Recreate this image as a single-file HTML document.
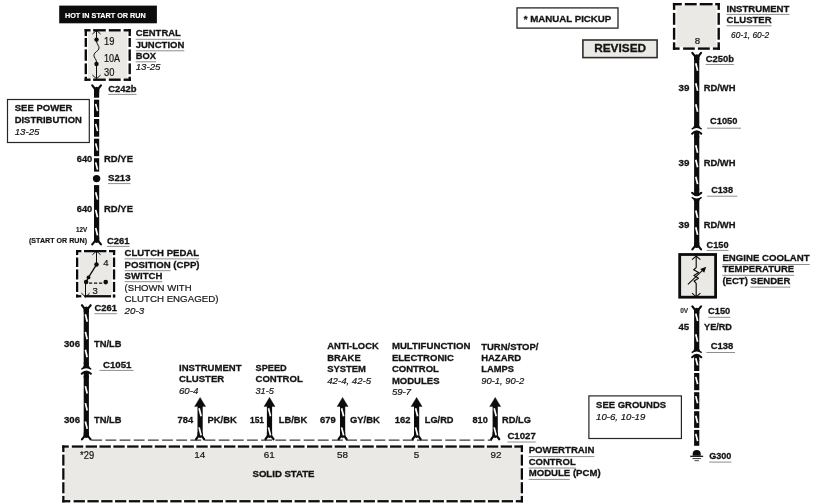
<!DOCTYPE html>
<html><head><meta charset="utf-8"><title>Wiring Diagram</title>
<style>
html,body{margin:0;padding:0;background:#fff;}
body{width:817px;height:504px;overflow:hidden;}
svg{display:block;font-family:"Liberation Sans",sans-serif;will-change:transform;}
</style></head><body>
<svg width="817" height="504" viewBox="0 0 817 504">
<rect x="0" y="0" width="817" height="504" fill="#fff"/>
<rect x="59.2" y="5.6" width="97.7" height="17.7" fill="#0c0c0c"/>
<text x="65.0" y="18.3" font-size="7.6" font-weight="bold" font-style="normal" text-anchor="start" fill="#fff" stroke="#fff" stroke-width="0.15" textLength="80.8" lengthAdjust="spacingAndGlyphs">HOT IN START OR RUN</text>
<rect x="88.1" y="31.7" width="39.3" height="46.6" fill="#ebe9e6"/>
<line x1="84.6" y1="30.3" x2="90.6" y2="30.3" stroke="#0c0c0c" stroke-width="2.4" />
<line x1="93.1" y1="30.3" x2="105.8" y2="30.3" stroke="#0c0c0c" stroke-width="2.4" />
<line x1="108.8" y1="30.3" x2="120.7" y2="30.3" stroke="#0c0c0c" stroke-width="2.4" />
<line x1="123.6" y1="30.3" x2="130.9" y2="30.3" stroke="#0c0c0c" stroke-width="2.4" />
<line x1="84.6" y1="79.7" x2="90.6" y2="79.7" stroke="#0c0c0c" stroke-width="2.4" />
<line x1="93.1" y1="79.7" x2="105.8" y2="79.7" stroke="#0c0c0c" stroke-width="2.4" />
<line x1="108.8" y1="79.7" x2="120.7" y2="79.7" stroke="#0c0c0c" stroke-width="2.4" />
<line x1="123.6" y1="79.7" x2="130.9" y2="79.7" stroke="#0c0c0c" stroke-width="2.4" />
<line x1="85.8" y1="29.1" x2="85.8" y2="36.1" stroke="#0c0c0c" stroke-width="2.4" />
<line x1="85.8" y1="38" x2="85.8" y2="46.9" stroke="#0c0c0c" stroke-width="2.4" />
<line x1="85.8" y1="49.4" x2="85.8" y2="60.8" stroke="#0c0c0c" stroke-width="2.4" />
<line x1="85.8" y1="63.4" x2="85.8" y2="74.2" stroke="#0c0c0c" stroke-width="2.4" />
<line x1="85.8" y1="76.7" x2="85.8" y2="80.9" stroke="#0c0c0c" stroke-width="2.4" />
<line x1="129.7" y1="29.1" x2="129.7" y2="36.1" stroke="#0c0c0c" stroke-width="2.4" />
<line x1="129.7" y1="38" x2="129.7" y2="46.9" stroke="#0c0c0c" stroke-width="2.4" />
<line x1="129.7" y1="49.4" x2="129.7" y2="60.8" stroke="#0c0c0c" stroke-width="2.4" />
<line x1="129.7" y1="63.4" x2="129.7" y2="74.2" stroke="#0c0c0c" stroke-width="2.4" />
<line x1="129.7" y1="76.7" x2="129.7" y2="80.9" stroke="#0c0c0c" stroke-width="2.4" />
<line x1="96.5" y1="30.5" x2="96.5" y2="40" stroke="#0c0c0c" stroke-width="1" />
<path d="M92.4,34.1 L96.5,30.3 L100.6,34.1" fill="none" stroke="#0c0c0c" stroke-width="1"/>
<circle cx="96.5" cy="39.6" r="2.2" fill="#0c0c0c"/>
<path d="M96.5,41 C97.0,45 99.1,45.5 99.1,48 C99.1,51 93.9,52 93.9,55.2 C93.9,58 96.2,58.5 96.5,62" fill="none" stroke="#0c0c0c" stroke-width="1"/>
<circle cx="96.5" cy="64" r="2.2" fill="#0c0c0c"/>
<line x1="96.5" y1="64" x2="96.5" y2="78.5" stroke="#0c0c0c" stroke-width="1" />
<path d="M92.4,75.0 L96.5,78.8 L100.6,75.0" fill="none" stroke="#0c0c0c" stroke-width="1"/>
<text x="104" y="44.6" font-size="10.1" font-weight="normal" font-style="normal" text-anchor="start" fill="#141414" stroke="#141414" stroke-width="0.2" textLength="10.4" lengthAdjust="spacingAndGlyphs">19</text>
<text x="104" y="61.9" font-size="10.1" font-weight="normal" font-style="normal" text-anchor="start" fill="#141414" stroke="#141414" stroke-width="0.2" textLength="16" lengthAdjust="spacingAndGlyphs">10A</text>
<text x="104" y="75.9" font-size="10.1" font-weight="normal" font-style="normal" text-anchor="start" fill="#141414" stroke="#141414" stroke-width="0.2" textLength="10.4" lengthAdjust="spacingAndGlyphs">30</text>
<text x="135.7" y="36.4" font-size="9.85" font-weight="bold" font-style="normal" text-anchor="start" fill="#141414" stroke="#141414" stroke-width="0.3" textLength="45.1" lengthAdjust="spacingAndGlyphs">CENTRAL</text>
<line x1="135.7" y1="39.3" x2="180.8" y2="39.3" stroke="#8e8e8e" stroke-width="1"/>
<text x="135.7" y="47.9" font-size="9.85" font-weight="bold" font-style="normal" text-anchor="start" fill="#141414" stroke="#141414" stroke-width="0.3" textLength="48.6" lengthAdjust="spacingAndGlyphs">JUNCTION</text>
<line x1="135.7" y1="50.8" x2="184.3" y2="50.8" stroke="#8e8e8e" stroke-width="1"/>
<text x="135.7" y="58.9" font-size="9.85" font-weight="bold" font-style="normal" text-anchor="start" fill="#141414" stroke="#141414" stroke-width="0.3" textLength="20.3" lengthAdjust="spacingAndGlyphs">BOX</text>
<line x1="135.7" y1="61.8" x2="156.0" y2="61.8" stroke="#8e8e8e" stroke-width="1"/>
<text x="135.7" y="70.3" font-size="9.85" font-weight="normal" font-style="italic" text-anchor="start" fill="#141414" stroke="#141414" stroke-width="0.2" textLength="24.8" lengthAdjust="spacingAndGlyphs">13-25</text>
<line x1="92.25" y1="85.45" x2="95.1" y2="89.0" stroke="#0c0c0c" stroke-width="2.15" stroke-linecap="round"/>
<line x1="100.95" y1="85.45" x2="98.1" y2="89.0" stroke="#0c0c0c" stroke-width="2.15" stroke-linecap="round"/>
<path d="M94.0,92.5 L94.0,88.5 L95.3,87.2 L96.6,86.8 L97.9,87.2 L99.2,88.5 L99.2,92.5 Z" fill="#0c0c0c"/>
<text x="108.2" y="91.5" font-size="9.85" font-weight="bold" font-style="normal" text-anchor="start" fill="#141414" stroke="#141414" stroke-width="0.3" textLength="28.3" lengthAdjust="spacingAndGlyphs">C242b</text>
<line x1="108.2" y1="94.4" x2="136.5" y2="94.4" stroke="#8e8e8e" stroke-width="1"/>
<line x1="96.6" y1="88" x2="96.6" y2="171.6" stroke="#0c0c0c" stroke-width="5.2" />
<line x1="95.7" y1="103.9" x2="97.5" y2="111.1" stroke="#fff" stroke-width="1.7" />
<line x1="95.7" y1="123.9" x2="97.5" y2="131.1" stroke="#fff" stroke-width="1.7" />
<line x1="95.7" y1="143.4" x2="97.5" y2="150.6" stroke="#fff" stroke-width="1.7" />
<line x1="95.7" y1="162.4" x2="97.5" y2="169.6" stroke="#fff" stroke-width="1.7" />
<rect x="92.6" y="97.7" width="8" height="2" fill="#fff"/>
<rect x="92.6" y="117.0" width="8" height="2" fill="#fff"/>
<rect x="92.6" y="136.7" width="8" height="2" fill="#fff"/>
<rect x="92.6" y="156.2" width="8" height="2" fill="#fff"/>
<text x="76.8" y="162" font-size="9.85" font-weight="bold" font-style="normal" text-anchor="start" fill="#141414" stroke="#141414" stroke-width="0.3" textLength="15.5" lengthAdjust="spacingAndGlyphs">640</text>
<text x="104" y="162" font-size="9.85" font-weight="bold" font-style="normal" text-anchor="start" fill="#141414" stroke="#141414" stroke-width="0.3" textLength="29" lengthAdjust="spacingAndGlyphs">RD/YE</text>
<rect x="7.5" y="99.5" width="81.8" height="43" fill="#fff" stroke="#262626" stroke-width="1.2"/>
<text x="14.7" y="111.4" font-size="9.85" font-weight="bold" font-style="normal" text-anchor="start" fill="#141414" stroke="#141414" stroke-width="0.3" textLength="57.8" lengthAdjust="spacingAndGlyphs">SEE POWER</text>
<text x="14.7" y="123.3" font-size="9.85" font-weight="bold" font-style="normal" text-anchor="start" fill="#141414" stroke="#141414" stroke-width="0.3" textLength="67.1" lengthAdjust="spacingAndGlyphs">DISTRIBUTION</text>
<text x="14.7" y="134.6" font-size="9.85" font-weight="normal" font-style="italic" text-anchor="start" fill="#141414" stroke="#141414" stroke-width="0.2" textLength="24.8" lengthAdjust="spacingAndGlyphs">13-25</text>
<circle cx="96.6" cy="178.6" r="3.7" fill="#0c0c0c"/>
<text x="108" y="180.7" font-size="9.85" font-weight="bold" font-style="normal" text-anchor="start" fill="#141414" stroke="#141414" stroke-width="0.3" textLength="22.5" lengthAdjust="spacingAndGlyphs">S213</text>
<line x1="108" y1="183.6" x2="130.5" y2="183.6" stroke="#8e8e8e" stroke-width="1"/>
<line x1="96.6" y1="185.1" x2="96.6" y2="241" stroke="#0c0c0c" stroke-width="5.2" />
<line x1="95.7" y1="192.2" x2="97.5" y2="199.6" stroke="#fff" stroke-width="1.7" />
<line x1="95.7" y1="209.9" x2="97.5" y2="217.3" stroke="#fff" stroke-width="1.7" />
<line x1="95.7" y1="228.0" x2="97.5" y2="235.4" stroke="#fff" stroke-width="1.7" />
<line x1="92.25" y1="244.35" x2="95.1" y2="240.8" stroke="#0c0c0c" stroke-width="2.15" stroke-linecap="round"/>
<line x1="100.95" y1="244.35" x2="98.1" y2="240.8" stroke="#0c0c0c" stroke-width="2.15" stroke-linecap="round"/>
<path d="M94.0,237.3 L94.0,241.3 L95.3,242.6 L96.6,243.0 L97.9,242.6 L99.2,241.3 L99.2,237.3 Z" fill="#0c0c0c"/>
<text x="76.8" y="211.6" font-size="9.85" font-weight="bold" font-style="normal" text-anchor="start" fill="#141414" stroke="#141414" stroke-width="0.3" textLength="15.5" lengthAdjust="spacingAndGlyphs">640</text>
<text x="104" y="211.6" font-size="9.85" font-weight="bold" font-style="normal" text-anchor="start" fill="#141414" stroke="#141414" stroke-width="0.3" textLength="29" lengthAdjust="spacingAndGlyphs">RD/YE</text>
<text x="76" y="232.4" font-size="6.9" font-weight="bold" font-style="normal" text-anchor="start" fill="#141414" stroke="#141414" stroke-width="0.15" textLength="11.2" lengthAdjust="spacingAndGlyphs">12V</text>
<text x="29" y="242.9" font-size="6.6" font-weight="bold" font-style="normal" text-anchor="start" fill="#141414" stroke="#141414" stroke-width="0.15" textLength="58" lengthAdjust="spacingAndGlyphs">(START OR RUN)</text>
<text x="107" y="243.5" font-size="9.85" font-weight="bold" font-style="normal" text-anchor="start" fill="#141414" stroke="#141414" stroke-width="0.3" textLength="22.5" lengthAdjust="spacingAndGlyphs">C261</text>
<line x1="107" y1="246.4" x2="129.5" y2="246.4" stroke="#8e8e8e" stroke-width="1"/>
<rect x="79.4" y="252.5" width="32.4" height="42.4" fill="#ebe9e6"/>
<line x1="76" y1="251.15" x2="81.4" y2="251.15" stroke="#0c0c0c" stroke-width="2.3" />
<line x1="84" y1="251.15" x2="106.4" y2="251.15" stroke="#0c0c0c" stroke-width="2.3" />
<line x1="109" y1="251.15" x2="115.2" y2="251.15" stroke="#0c0c0c" stroke-width="2.3" />
<line x1="76" y1="296.25" x2="81.3" y2="296.25" stroke="#0c0c0c" stroke-width="2.3" />
<line x1="84.3" y1="296.25" x2="111.1" y2="296.25" stroke="#0c0c0c" stroke-width="2.3" />
<line x1="112.9" y1="296.25" x2="115.2" y2="296.25" stroke="#0c0c0c" stroke-width="2.3" />
<line x1="77.15" y1="250" x2="77.15" y2="255.1" stroke="#0c0c0c" stroke-width="2.3" />
<line x1="77.15" y1="257.5" x2="77.15" y2="267" stroke="#0c0c0c" stroke-width="2.3" />
<line x1="77.15" y1="269.4" x2="77.15" y2="279.5" stroke="#0c0c0c" stroke-width="2.3" />
<line x1="77.15" y1="281.9" x2="77.15" y2="292" stroke="#0c0c0c" stroke-width="2.3" />
<line x1="77.15" y1="294.4" x2="77.15" y2="297.4" stroke="#0c0c0c" stroke-width="2.3" />
<line x1="114.05" y1="250" x2="114.05" y2="255.1" stroke="#0c0c0c" stroke-width="2.3" />
<line x1="114.05" y1="257.5" x2="114.05" y2="267" stroke="#0c0c0c" stroke-width="2.3" />
<line x1="114.05" y1="269.4" x2="114.05" y2="279.5" stroke="#0c0c0c" stroke-width="2.3" />
<line x1="114.05" y1="281.9" x2="114.05" y2="292" stroke="#0c0c0c" stroke-width="2.3" />
<line x1="114.05" y1="294.4" x2="114.05" y2="297.4" stroke="#0c0c0c" stroke-width="2.3" />
<line x1="96.5" y1="251" x2="96.5" y2="264.6" stroke="#0c0c0c" stroke-width="1" />
<path d="M92.4,254.8 L96.5,251.0 L100.6,254.8" fill="none" stroke="#0c0c0c" stroke-width="1"/>
<circle cx="96.5" cy="264.6" r="2.25" fill="#0c0c0c"/>
<path d="M96.5,264.6 L88.5,277.4 L86.1,281.9" fill="none" stroke="#0c0c0c" stroke-width="1.3"/>
<circle cx="88.5" cy="277.4" r="1.9" fill="#0c0c0c"/>
<circle cx="86.1" cy="281.9" r="2.25" fill="#0c0c0c"/>
<circle cx="105.7" cy="282.1" r="2.3" fill="#0c0c0c"/>
<line x1="89" y1="283.2" x2="102.5" y2="283.2" stroke="#0c0c0c" stroke-width="1.2" stroke-dasharray="3.2 1.8"/>
<line x1="85.5" y1="282" x2="85.5" y2="296.8" stroke="#0c0c0c" stroke-width="1" />
<path d="M81.4,293.2 L85.5,297.0 L89.6,293.2" fill="none" stroke="#0c0c0c" stroke-width="1"/>
<text x="103.2" y="265.8" font-size="9.9" font-weight="normal" font-style="normal" text-anchor="start" fill="#141414" stroke="#141414" stroke-width="0.2" textLength="5.3" lengthAdjust="spacingAndGlyphs">4</text>
<text x="92.6" y="294.2" font-size="9.9" font-weight="normal" font-style="normal" text-anchor="start" fill="#141414" stroke="#141414" stroke-width="0.2" textLength="5.3" lengthAdjust="spacingAndGlyphs">3</text>
<text x="124.6" y="256" font-size="9.85" font-weight="bold" font-style="normal" text-anchor="start" fill="#141414" stroke="#141414" stroke-width="0.3" textLength="74.5" lengthAdjust="spacingAndGlyphs">CLUTCH PEDAL</text>
<line x1="124.6" y1="258.9" x2="199.1" y2="258.9" stroke="#8e8e8e" stroke-width="1"/>
<text x="124.6" y="267.8" font-size="9.85" font-weight="bold" font-style="normal" text-anchor="start" fill="#141414" stroke="#141414" stroke-width="0.3" textLength="75" lengthAdjust="spacingAndGlyphs">POSITION (CPP)</text>
<line x1="124.6" y1="270.7" x2="170.6" y2="270.7" stroke="#8e8e8e" stroke-width="1"/>
<text x="124.6" y="278.8" font-size="9.85" font-weight="bold" font-style="normal" text-anchor="start" fill="#141414" stroke="#141414" stroke-width="0.3" textLength="37.8" lengthAdjust="spacingAndGlyphs">SWITCH</text>
<line x1="124.6" y1="281.7" x2="162.4" y2="281.7" stroke="#8e8e8e" stroke-width="1"/>
<text x="124.6" y="290.7" font-size="9.85" font-weight="normal" font-style="normal" text-anchor="start" fill="#141414" stroke="#141414" stroke-width="0.2" textLength="67" lengthAdjust="spacingAndGlyphs">(SHOWN WITH</text>
<text x="124.6" y="301.8" font-size="9.85" font-weight="normal" font-style="normal" text-anchor="start" fill="#141414" stroke="#141414" stroke-width="0.2" textLength="93.8" lengthAdjust="spacingAndGlyphs">CLUTCH ENGAGED)</text>
<text x="124.6" y="313.8" font-size="9.85" font-weight="normal" font-style="italic" text-anchor="start" fill="#141414" stroke="#141414" stroke-width="0.2" textLength="19.6" lengthAdjust="spacingAndGlyphs">20-3</text>
<line x1="81.95" y1="305.25" x2="84.8" y2="308.8" stroke="#0c0c0c" stroke-width="2.15" stroke-linecap="round"/>
<line x1="90.65" y1="305.25" x2="87.8" y2="308.8" stroke="#0c0c0c" stroke-width="2.15" stroke-linecap="round"/>
<path d="M83.7,312.3 L83.7,308.3 L85.0,307.0 L86.3,306.6 L87.6,307.0 L88.9,308.3 L88.9,312.3 Z" fill="#0c0c0c"/>
<text x="94.4" y="310.9" font-size="9.85" font-weight="bold" font-style="normal" text-anchor="start" fill="#141414" stroke="#141414" stroke-width="0.3" textLength="22.5" lengthAdjust="spacingAndGlyphs">C261</text>
<line x1="94.4" y1="313.7" x2="116.9" y2="313.7" stroke="#8e8e8e" stroke-width="1"/>
<line x1="86.3" y1="308" x2="86.3" y2="364" stroke="#0c0c0c" stroke-width="5.2" />
<line x1="85.4" y1="314.3" x2="87.2" y2="321.7" stroke="#fff" stroke-width="1.7" />
<line x1="85.4" y1="331.9" x2="87.2" y2="339.3" stroke="#fff" stroke-width="1.7" />
<line x1="85.4" y1="349.8" x2="87.2" y2="357.2" stroke="#fff" stroke-width="1.7" />
<path d="M83.7,362.6 L83.7,365.6 Q83.4,367.6 81.0,368.7 L81.6,369.8 Q86.3,366.6 91.0,369.8 L91.6,368.7 Q89.2,367.6 88.9,365.6 L88.9,362.6 Z" fill="#0c0c0c"/>
<path d="M81.7,373.8 Q86.3,369.0 90.9,373.8" fill="none" stroke="#0c0c0c" stroke-width="2" stroke-linecap="round"/>
<path d="M83.7,377.6 L83.7,372.2 Q86.3,370.4 88.9,372.2 L88.9,377.6 Z" fill="#0c0c0c"/>
<text x="103" y="367.5" font-size="9.85" font-weight="bold" font-style="normal" text-anchor="start" fill="#141414" stroke="#141414" stroke-width="0.3" textLength="28.5" lengthAdjust="spacingAndGlyphs">C1051</text>
<line x1="99.5" y1="370.4" x2="133.5" y2="370.4" stroke="#8e8e8e" stroke-width="1"/>
<line x1="86.3" y1="376" x2="86.3" y2="437" stroke="#0c0c0c" stroke-width="5.2" />
<line x1="85.4" y1="386.1" x2="87.2" y2="393.5" stroke="#fff" stroke-width="1.7" />
<line x1="85.4" y1="403.1" x2="87.2" y2="410.5" stroke="#fff" stroke-width="1.7" />
<line x1="85.4" y1="421.5" x2="87.2" y2="428.9" stroke="#fff" stroke-width="1.7" />
<line x1="81.95" y1="439.45" x2="84.8" y2="435.9" stroke="#0c0c0c" stroke-width="2.15" stroke-linecap="round"/>
<line x1="90.65" y1="439.45" x2="87.8" y2="435.9" stroke="#0c0c0c" stroke-width="2.15" stroke-linecap="round"/>
<path d="M83.7,432.4 L83.7,436.4 L85.0,437.7 L86.3,438.1 L87.6,437.7 L88.9,436.4 L88.9,432.4 Z" fill="#0c0c0c"/>
<text x="64" y="346.6" font-size="9.85" font-weight="bold" font-style="normal" text-anchor="start" fill="#141414" stroke="#141414" stroke-width="0.3" textLength="16" lengthAdjust="spacingAndGlyphs">306</text>
<text x="94" y="346.6" font-size="9.85" font-weight="bold" font-style="normal" text-anchor="start" fill="#141414" stroke="#141414" stroke-width="0.3" textLength="27.4" lengthAdjust="spacingAndGlyphs">TN/LB</text>
<text x="64" y="422.5" font-size="9.85" font-weight="bold" font-style="normal" text-anchor="start" fill="#141414" stroke="#141414" stroke-width="0.3" textLength="16" lengthAdjust="spacingAndGlyphs">306</text>
<text x="94" y="422.5" font-size="9.85" font-weight="bold" font-style="normal" text-anchor="start" fill="#141414" stroke="#141414" stroke-width="0.3" textLength="27.4" lengthAdjust="spacingAndGlyphs">TN/LB</text>
<line x1="91.3" y1="440.1" x2="492" y2="440.1" stroke="#3c3c3c" stroke-width="1.25" stroke-dasharray="10.8 3.36"/>
<rect x="64.9" y="447.9" width="455.4" height="52.0" fill="#ebe9e6"/>
<line x1="62.2" y1="446.55" x2="68.8" y2="446.55" stroke="#0c0c0c" stroke-width="2.3" />
<line x1="71.8" y1="446.55" x2="83.2" y2="446.55" stroke="#0c0c0c" stroke-width="2.3" />
<line x1="85.63" y1="446.55" x2="97.03" y2="446.55" stroke="#0c0c0c" stroke-width="2.3" />
<line x1="99.47" y1="446.55" x2="110.87" y2="446.55" stroke="#0c0c0c" stroke-width="2.3" />
<line x1="113.31" y1="446.55" x2="124.71" y2="446.55" stroke="#0c0c0c" stroke-width="2.3" />
<line x1="127.14" y1="446.55" x2="138.54" y2="446.55" stroke="#0c0c0c" stroke-width="2.3" />
<line x1="140.98" y1="446.55" x2="152.38" y2="446.55" stroke="#0c0c0c" stroke-width="2.3" />
<line x1="154.81" y1="446.55" x2="166.21" y2="446.55" stroke="#0c0c0c" stroke-width="2.3" />
<line x1="168.64" y1="446.55" x2="180.04" y2="446.55" stroke="#0c0c0c" stroke-width="2.3" />
<line x1="182.48" y1="446.55" x2="193.88" y2="446.55" stroke="#0c0c0c" stroke-width="2.3" />
<line x1="196.31" y1="446.55" x2="207.72" y2="446.55" stroke="#0c0c0c" stroke-width="2.3" />
<line x1="210.15" y1="446.55" x2="221.55" y2="446.55" stroke="#0c0c0c" stroke-width="2.3" />
<line x1="223.99" y1="446.55" x2="235.39" y2="446.55" stroke="#0c0c0c" stroke-width="2.3" />
<line x1="237.82" y1="446.55" x2="249.22" y2="446.55" stroke="#0c0c0c" stroke-width="2.3" />
<line x1="251.66" y1="446.55" x2="263.06" y2="446.55" stroke="#0c0c0c" stroke-width="2.3" />
<line x1="265.49" y1="446.55" x2="276.89" y2="446.55" stroke="#0c0c0c" stroke-width="2.3" />
<line x1="279.32" y1="446.55" x2="290.72" y2="446.55" stroke="#0c0c0c" stroke-width="2.3" />
<line x1="293.16" y1="446.55" x2="304.56" y2="446.55" stroke="#0c0c0c" stroke-width="2.3" />
<line x1="307.0" y1="446.55" x2="318.39" y2="446.55" stroke="#0c0c0c" stroke-width="2.3" />
<line x1="320.83" y1="446.55" x2="332.23" y2="446.55" stroke="#0c0c0c" stroke-width="2.3" />
<line x1="334.67" y1="446.55" x2="346.06" y2="446.55" stroke="#0c0c0c" stroke-width="2.3" />
<line x1="348.5" y1="446.55" x2="359.9" y2="446.55" stroke="#0c0c0c" stroke-width="2.3" />
<line x1="362.34" y1="446.55" x2="373.74" y2="446.55" stroke="#0c0c0c" stroke-width="2.3" />
<line x1="376.17" y1="446.55" x2="387.57" y2="446.55" stroke="#0c0c0c" stroke-width="2.3" />
<line x1="390.01" y1="446.55" x2="401.41" y2="446.55" stroke="#0c0c0c" stroke-width="2.3" />
<line x1="403.84" y1="446.55" x2="415.24" y2="446.55" stroke="#0c0c0c" stroke-width="2.3" />
<line x1="417.68" y1="446.55" x2="429.07" y2="446.55" stroke="#0c0c0c" stroke-width="2.3" />
<line x1="431.51" y1="446.55" x2="442.91" y2="446.55" stroke="#0c0c0c" stroke-width="2.3" />
<line x1="445.35" y1="446.55" x2="456.75" y2="446.55" stroke="#0c0c0c" stroke-width="2.3" />
<line x1="459.18" y1="446.55" x2="470.58" y2="446.55" stroke="#0c0c0c" stroke-width="2.3" />
<line x1="473.02" y1="446.55" x2="484.42" y2="446.55" stroke="#0c0c0c" stroke-width="2.3" />
<line x1="486.85" y1="446.55" x2="498.25" y2="446.55" stroke="#0c0c0c" stroke-width="2.3" />
<line x1="500.69" y1="446.55" x2="512.09" y2="446.55" stroke="#0c0c0c" stroke-width="2.3" />
<line x1="514.3" y1="446.55" x2="523.0" y2="446.55" stroke="#0c0c0c" stroke-width="2.3" />
<line x1="62.2" y1="501.25" x2="70.3" y2="501.25" stroke="#0c0c0c" stroke-width="2.3" />
<line x1="73.6" y1="501.25" x2="84.9" y2="501.25" stroke="#0c0c0c" stroke-width="2.3" />
<line x1="87.41" y1="501.25" x2="98.71" y2="501.25" stroke="#0c0c0c" stroke-width="2.3" />
<line x1="101.22" y1="501.25" x2="112.52" y2="501.25" stroke="#0c0c0c" stroke-width="2.3" />
<line x1="115.03" y1="501.25" x2="126.33" y2="501.25" stroke="#0c0c0c" stroke-width="2.3" />
<line x1="128.84" y1="501.25" x2="140.14" y2="501.25" stroke="#0c0c0c" stroke-width="2.3" />
<line x1="142.65" y1="501.25" x2="153.95" y2="501.25" stroke="#0c0c0c" stroke-width="2.3" />
<line x1="156.46" y1="501.25" x2="167.76" y2="501.25" stroke="#0c0c0c" stroke-width="2.3" />
<line x1="170.27" y1="501.25" x2="181.57" y2="501.25" stroke="#0c0c0c" stroke-width="2.3" />
<line x1="184.08" y1="501.25" x2="195.38" y2="501.25" stroke="#0c0c0c" stroke-width="2.3" />
<line x1="197.89" y1="501.25" x2="209.19" y2="501.25" stroke="#0c0c0c" stroke-width="2.3" />
<line x1="211.7" y1="501.25" x2="223.0" y2="501.25" stroke="#0c0c0c" stroke-width="2.3" />
<line x1="225.51" y1="501.25" x2="236.81" y2="501.25" stroke="#0c0c0c" stroke-width="2.3" />
<line x1="239.32" y1="501.25" x2="250.62" y2="501.25" stroke="#0c0c0c" stroke-width="2.3" />
<line x1="253.13" y1="501.25" x2="264.43" y2="501.25" stroke="#0c0c0c" stroke-width="2.3" />
<line x1="266.94" y1="501.25" x2="278.24" y2="501.25" stroke="#0c0c0c" stroke-width="2.3" />
<line x1="280.75" y1="501.25" x2="292.05" y2="501.25" stroke="#0c0c0c" stroke-width="2.3" />
<line x1="294.56" y1="501.25" x2="305.86" y2="501.25" stroke="#0c0c0c" stroke-width="2.3" />
<line x1="308.37" y1="501.25" x2="319.67" y2="501.25" stroke="#0c0c0c" stroke-width="2.3" />
<line x1="322.18" y1="501.25" x2="333.48" y2="501.25" stroke="#0c0c0c" stroke-width="2.3" />
<line x1="335.99" y1="501.25" x2="347.29" y2="501.25" stroke="#0c0c0c" stroke-width="2.3" />
<line x1="349.8" y1="501.25" x2="361.1" y2="501.25" stroke="#0c0c0c" stroke-width="2.3" />
<line x1="363.61" y1="501.25" x2="374.91" y2="501.25" stroke="#0c0c0c" stroke-width="2.3" />
<line x1="377.42" y1="501.25" x2="388.72" y2="501.25" stroke="#0c0c0c" stroke-width="2.3" />
<line x1="391.23" y1="501.25" x2="402.53" y2="501.25" stroke="#0c0c0c" stroke-width="2.3" />
<line x1="405.04" y1="501.25" x2="416.34" y2="501.25" stroke="#0c0c0c" stroke-width="2.3" />
<line x1="418.85" y1="501.25" x2="430.15" y2="501.25" stroke="#0c0c0c" stroke-width="2.3" />
<line x1="432.66" y1="501.25" x2="443.96" y2="501.25" stroke="#0c0c0c" stroke-width="2.3" />
<line x1="446.47" y1="501.25" x2="457.77" y2="501.25" stroke="#0c0c0c" stroke-width="2.3" />
<line x1="460.28" y1="501.25" x2="471.58" y2="501.25" stroke="#0c0c0c" stroke-width="2.3" />
<line x1="474.09" y1="501.25" x2="485.39" y2="501.25" stroke="#0c0c0c" stroke-width="2.3" />
<line x1="487.9" y1="501.25" x2="499.2" y2="501.25" stroke="#0c0c0c" stroke-width="2.3" />
<line x1="501.71" y1="501.25" x2="513.01" y2="501.25" stroke="#0c0c0c" stroke-width="2.3" />
<line x1="515.8" y1="501.25" x2="523.0" y2="501.25" stroke="#0c0c0c" stroke-width="2.3" />
<line x1="63.35" y1="445.4" x2="63.35" y2="452.1" stroke="#0c0c0c" stroke-width="2.3" />
<line x1="63.35" y1="454.6" x2="63.35" y2="465.6" stroke="#0c0c0c" stroke-width="2.3" />
<line x1="63.35" y1="468.2" x2="63.35" y2="479.7" stroke="#0c0c0c" stroke-width="2.3" />
<line x1="63.35" y1="482.2" x2="63.35" y2="493.3" stroke="#0c0c0c" stroke-width="2.3" />
<line x1="63.35" y1="495.9" x2="63.35" y2="502.4" stroke="#0c0c0c" stroke-width="2.3" />
<line x1="521.85" y1="445.4" x2="521.85" y2="452.1" stroke="#0c0c0c" stroke-width="2.3" />
<line x1="521.85" y1="454.6" x2="521.85" y2="465.6" stroke="#0c0c0c" stroke-width="2.3" />
<line x1="521.85" y1="468.2" x2="521.85" y2="479.7" stroke="#0c0c0c" stroke-width="2.3" />
<line x1="521.85" y1="482.2" x2="521.85" y2="493.3" stroke="#0c0c0c" stroke-width="2.3" />
<line x1="521.85" y1="495.9" x2="521.85" y2="502.4" stroke="#0c0c0c" stroke-width="2.3" />
<text x="80.1" y="459.1" font-size="10.2" font-weight="normal" font-style="normal" text-anchor="start" fill="#141414" stroke="#141414" stroke-width="0.2" textLength="14" lengthAdjust="spacingAndGlyphs">*29</text>
<text x="199.7" y="458.3" font-size="9.9" font-weight="normal" font-style="normal" text-anchor="middle" fill="#141414" stroke="#141414" stroke-width="0.2">14</text>
<text x="269.3" y="458.3" font-size="9.9" font-weight="normal" font-style="normal" text-anchor="middle" fill="#141414" stroke="#141414" stroke-width="0.2">61</text>
<text x="342.5" y="458.3" font-size="9.9" font-weight="normal" font-style="normal" text-anchor="middle" fill="#141414" stroke="#141414" stroke-width="0.2">58</text>
<text x="416.5" y="458.3" font-size="9.9" font-weight="normal" font-style="normal" text-anchor="middle" fill="#141414" stroke="#141414" stroke-width="0.2">5</text>
<text x="496" y="457.7" font-size="9.9" font-weight="normal" font-style="normal" text-anchor="middle" fill="#141414" stroke="#141414" stroke-width="0.2">92</text>
<text x="283.5" y="476.5" font-size="8.8" font-weight="bold" font-style="normal" text-anchor="middle" fill="#141414" stroke="#141414" stroke-width="0.3" textLength="62" lengthAdjust="spacingAndGlyphs">SOLID STATE</text>
<text x="528.7" y="453.4" font-size="9.85" font-weight="bold" font-style="normal" text-anchor="start" fill="#141414" stroke="#141414" stroke-width="0.3" textLength="65.7" lengthAdjust="spacingAndGlyphs">POWERTRAIN</text>
<line x1="528.7" y1="456.6" x2="594.4" y2="456.6" stroke="#8e8e8e" stroke-width="1"/>
<text x="528.7" y="464.8" font-size="9.85" font-weight="bold" font-style="normal" text-anchor="start" fill="#141414" stroke="#141414" stroke-width="0.3" textLength="47" lengthAdjust="spacingAndGlyphs">CONTROL</text>
<line x1="528.7" y1="468.0" x2="575.7" y2="468.0" stroke="#8e8e8e" stroke-width="1"/>
<text x="528.7" y="476.3" font-size="9.85" font-weight="bold" font-style="normal" text-anchor="start" fill="#141414" stroke="#141414" stroke-width="0.3" textLength="71.9" lengthAdjust="spacingAndGlyphs">MODULE (PCM)</text>
<line x1="528.7" y1="479.4" x2="569.8" y2="479.4" stroke="#8e8e8e" stroke-width="1"/>
<text x="507.4" y="439.1" font-size="9.85" font-weight="bold" font-style="normal" text-anchor="start" fill="#141414" stroke="#141414" stroke-width="0.3" textLength="28.4" lengthAdjust="spacingAndGlyphs">C1027</text>
<line x1="507.4" y1="442.0" x2="535.8" y2="442.0" stroke="#8e8e8e" stroke-width="1"/>
<line x1="200.1" y1="403.4" x2="200.1" y2="436.5" stroke="#0c0c0c" stroke-width="5.2" />
<path d="M200.1,397.4 L205.6,406.6 Q200.1,406.0 194.6,406.6 Z" fill="#0c0c0c" stroke="#0c0c0c" stroke-width="0.4" stroke-linejoin="round"/>
<line x1="196.05" y1="439.25" x2="198.6" y2="435.7" stroke="#0c0c0c" stroke-width="2.15" stroke-linecap="round"/>
<line x1="204.15" y1="439.25" x2="201.6" y2="435.7" stroke="#0c0c0c" stroke-width="2.15" stroke-linecap="round"/>
<path d="M197.5,432.2 L197.5,436.2 L198.8,437.5 L200.1,437.9 L201.4,437.5 L202.7,436.2 L202.7,432.2 Z" fill="#0c0c0c"/>
<line x1="199.1" y1="408.3" x2="201.1" y2="416.3" stroke="#fff" stroke-width="1.7" />
<line x1="199.1" y1="427.4" x2="201.1" y2="435.4" stroke="#fff" stroke-width="1.7" />
<text x="177.6" y="423.3" font-size="9.85" font-weight="bold" font-style="normal" text-anchor="start" fill="#141414" stroke="#141414" stroke-width="0.3" textLength="15.6" lengthAdjust="spacingAndGlyphs">784</text>
<text x="207.5" y="423.3" font-size="9.85" font-weight="bold" font-style="normal" text-anchor="start" fill="#141414" stroke="#141414" stroke-width="0.3" textLength="29.3" lengthAdjust="spacingAndGlyphs">PK/BK</text>
<text x="179" y="370.8" font-size="9.85" font-weight="bold" font-style="normal" text-anchor="start" fill="#141414" stroke="#141414" stroke-width="0.3" textLength="62.5" lengthAdjust="spacingAndGlyphs">INSTRUMENT</text>
<text x="179" y="382.2" font-size="9.85" font-weight="bold" font-style="normal" text-anchor="start" fill="#141414" stroke="#141414" stroke-width="0.3" textLength="45.2" lengthAdjust="spacingAndGlyphs">CLUSTER</text>
<text x="179" y="393.6" font-size="9.85" font-weight="normal" font-style="italic" text-anchor="start" fill="#141414" stroke="#141414" stroke-width="0.2" textLength="19.3" lengthAdjust="spacingAndGlyphs">60-4</text>
<line x1="269.5" y1="403.4" x2="269.5" y2="436.5" stroke="#0c0c0c" stroke-width="5.2" />
<path d="M269.5,397.4 L275.0,406.6 Q269.5,406.0 264.0,406.6 Z" fill="#0c0c0c" stroke="#0c0c0c" stroke-width="0.4" stroke-linejoin="round"/>
<line x1="265.45" y1="439.25" x2="268.0" y2="435.7" stroke="#0c0c0c" stroke-width="2.15" stroke-linecap="round"/>
<line x1="273.55" y1="439.25" x2="271.0" y2="435.7" stroke="#0c0c0c" stroke-width="2.15" stroke-linecap="round"/>
<path d="M266.9,432.2 L266.9,436.2 L268.2,437.5 L269.5,437.9 L270.8,437.5 L272.1,436.2 L272.1,432.2 Z" fill="#0c0c0c"/>
<line x1="268.5" y1="408.3" x2="270.5" y2="416.3" stroke="#fff" stroke-width="1.7" />
<line x1="268.5" y1="427.4" x2="270.5" y2="435.4" stroke="#fff" stroke-width="1.7" />
<text x="250" y="423.3" font-size="9.85" font-weight="bold" font-style="normal" text-anchor="start" fill="#141414" stroke="#141414" stroke-width="0.3" textLength="14" lengthAdjust="spacingAndGlyphs">151</text>
<text x="278.7" y="423.3" font-size="9.85" font-weight="bold" font-style="normal" text-anchor="start" fill="#141414" stroke="#141414" stroke-width="0.3" textLength="28.6" lengthAdjust="spacingAndGlyphs">LB/BK</text>
<text x="255.5" y="370.8" font-size="9.85" font-weight="bold" font-style="normal" text-anchor="start" fill="#141414" stroke="#141414" stroke-width="0.3" textLength="31.2" lengthAdjust="spacingAndGlyphs">SPEED</text>
<text x="255.5" y="382.2" font-size="9.85" font-weight="bold" font-style="normal" text-anchor="start" fill="#141414" stroke="#141414" stroke-width="0.3" textLength="47.3" lengthAdjust="spacingAndGlyphs">CONTROL</text>
<text x="255.5" y="393.6" font-size="9.85" font-weight="normal" font-style="italic" text-anchor="start" fill="#141414" stroke="#141414" stroke-width="0.2" textLength="18.4" lengthAdjust="spacingAndGlyphs">31-5</text>
<line x1="342.6" y1="403.4" x2="342.6" y2="436.5" stroke="#0c0c0c" stroke-width="5.2" />
<path d="M342.6,397.4 L348.1,406.6 Q342.6,406.0 337.1,406.6 Z" fill="#0c0c0c" stroke="#0c0c0c" stroke-width="0.4" stroke-linejoin="round"/>
<line x1="338.55" y1="439.25" x2="341.1" y2="435.7" stroke="#0c0c0c" stroke-width="2.15" stroke-linecap="round"/>
<line x1="346.65" y1="439.25" x2="344.1" y2="435.7" stroke="#0c0c0c" stroke-width="2.15" stroke-linecap="round"/>
<path d="M340.0,432.2 L340.0,436.2 L341.3,437.5 L342.6,437.9 L343.9,437.5 L345.2,436.2 L345.2,432.2 Z" fill="#0c0c0c"/>
<line x1="341.6" y1="408.3" x2="343.6" y2="416.3" stroke="#fff" stroke-width="1.7" />
<line x1="341.6" y1="427.4" x2="343.6" y2="435.4" stroke="#fff" stroke-width="1.7" />
<text x="320.1" y="423.3" font-size="9.85" font-weight="bold" font-style="normal" text-anchor="start" fill="#141414" stroke="#141414" stroke-width="0.3" textLength="15.7" lengthAdjust="spacingAndGlyphs">679</text>
<text x="349.9" y="423.3" font-size="9.85" font-weight="bold" font-style="normal" text-anchor="start" fill="#141414" stroke="#141414" stroke-width="0.3" textLength="30.0" lengthAdjust="spacingAndGlyphs">GY/BK</text>
<text x="327.2" y="349.4" font-size="9.85" font-weight="bold" font-style="normal" text-anchor="start" fill="#141414" stroke="#141414" stroke-width="0.3" textLength="51.5" lengthAdjust="spacingAndGlyphs">ANTI-LOCK</text>
<text x="327.2" y="360.8" font-size="9.85" font-weight="bold" font-style="normal" text-anchor="start" fill="#141414" stroke="#141414" stroke-width="0.3" textLength="33.5" lengthAdjust="spacingAndGlyphs">BRAKE</text>
<text x="327.2" y="372.2" font-size="9.85" font-weight="bold" font-style="normal" text-anchor="start" fill="#141414" stroke="#141414" stroke-width="0.3" textLength="38.8" lengthAdjust="spacingAndGlyphs">SYSTEM</text>
<text x="327.2" y="383.6" font-size="9.85" font-weight="normal" font-style="italic" text-anchor="start" fill="#141414" stroke="#141414" stroke-width="0.2" textLength="44" lengthAdjust="spacingAndGlyphs">42-4, 42-5</text>
<line x1="416.6" y1="403.4" x2="416.6" y2="436.5" stroke="#0c0c0c" stroke-width="5.2" />
<path d="M416.6,397.4 L422.1,406.6 Q416.6,406.0 411.1,406.6 Z" fill="#0c0c0c" stroke="#0c0c0c" stroke-width="0.4" stroke-linejoin="round"/>
<line x1="412.55" y1="439.25" x2="415.1" y2="435.7" stroke="#0c0c0c" stroke-width="2.15" stroke-linecap="round"/>
<line x1="420.65" y1="439.25" x2="418.1" y2="435.7" stroke="#0c0c0c" stroke-width="2.15" stroke-linecap="round"/>
<path d="M414.0,432.2 L414.0,436.2 L415.3,437.5 L416.6,437.9 L417.9,437.5 L419.2,436.2 L419.2,432.2 Z" fill="#0c0c0c"/>
<line x1="415.6" y1="408.3" x2="417.6" y2="416.3" stroke="#fff" stroke-width="1.7" />
<line x1="415.6" y1="427.4" x2="417.6" y2="435.4" stroke="#fff" stroke-width="1.7" />
<text x="394.8" y="423.3" font-size="9.85" font-weight="bold" font-style="normal" text-anchor="start" fill="#141414" stroke="#141414" stroke-width="0.3" textLength="15.7" lengthAdjust="spacingAndGlyphs">162</text>
<text x="424.8" y="423.3" font-size="9.85" font-weight="bold" font-style="normal" text-anchor="start" fill="#141414" stroke="#141414" stroke-width="0.3" textLength="28.7" lengthAdjust="spacingAndGlyphs">LG/RD</text>
<text x="391.9" y="349.4" font-size="9.85" font-weight="bold" font-style="normal" text-anchor="start" fill="#141414" stroke="#141414" stroke-width="0.3" textLength="78.5" lengthAdjust="spacingAndGlyphs">MULTIFUNCTION</text>
<text x="391.9" y="360.8" font-size="9.85" font-weight="bold" font-style="normal" text-anchor="start" fill="#141414" stroke="#141414" stroke-width="0.3" textLength="61.9" lengthAdjust="spacingAndGlyphs">ELECTRONIC</text>
<text x="391.9" y="372.2" font-size="9.85" font-weight="bold" font-style="normal" text-anchor="start" fill="#141414" stroke="#141414" stroke-width="0.3" textLength="47" lengthAdjust="spacingAndGlyphs">CONTROL</text>
<text x="391.9" y="383.6" font-size="9.85" font-weight="bold" font-style="normal" text-anchor="start" fill="#141414" stroke="#141414" stroke-width="0.3" textLength="47.6" lengthAdjust="spacingAndGlyphs">MODULES</text>
<text x="391.9" y="395" font-size="9.85" font-weight="normal" font-style="italic" text-anchor="start" fill="#141414" stroke="#141414" stroke-width="0.2" textLength="19.2" lengthAdjust="spacingAndGlyphs">59-7</text>
<line x1="495.2" y1="403.4" x2="495.2" y2="436.5" stroke="#0c0c0c" stroke-width="5.2" />
<path d="M495.2,397.4 L500.7,406.6 Q495.2,406.0 489.7,406.6 Z" fill="#0c0c0c" stroke="#0c0c0c" stroke-width="0.4" stroke-linejoin="round"/>
<line x1="491.15" y1="439.25" x2="493.7" y2="435.7" stroke="#0c0c0c" stroke-width="2.15" stroke-linecap="round"/>
<line x1="499.25" y1="439.25" x2="496.7" y2="435.7" stroke="#0c0c0c" stroke-width="2.15" stroke-linecap="round"/>
<path d="M492.6,432.2 L492.6,436.2 L493.9,437.5 L495.2,437.9 L496.5,437.5 L497.8,436.2 L497.8,432.2 Z" fill="#0c0c0c"/>
<line x1="494.2" y1="408.3" x2="496.2" y2="416.3" stroke="#fff" stroke-width="1.7" />
<line x1="494.2" y1="427.4" x2="496.2" y2="435.4" stroke="#fff" stroke-width="1.7" />
<text x="472.5" y="423.3" font-size="9.85" font-weight="bold" font-style="normal" text-anchor="start" fill="#141414" stroke="#141414" stroke-width="0.3" textLength="15.3" lengthAdjust="spacingAndGlyphs">810</text>
<text x="502.1" y="423.3" font-size="9.85" font-weight="bold" font-style="normal" text-anchor="start" fill="#141414" stroke="#141414" stroke-width="0.3" textLength="28.8" lengthAdjust="spacingAndGlyphs">RD/LG</text>
<text x="481.2" y="349.6" font-size="9.85" font-weight="bold" font-style="normal" text-anchor="start" fill="#141414" stroke="#141414" stroke-width="0.3" textLength="57.2" lengthAdjust="spacingAndGlyphs">TURN/STOP/</text>
<text x="481.2" y="361.0" font-size="9.85" font-weight="bold" font-style="normal" text-anchor="start" fill="#141414" stroke="#141414" stroke-width="0.3" textLength="40" lengthAdjust="spacingAndGlyphs">HAZARD</text>
<text x="481.2" y="372.4" font-size="9.85" font-weight="bold" font-style="normal" text-anchor="start" fill="#141414" stroke="#141414" stroke-width="0.3" textLength="32.7" lengthAdjust="spacingAndGlyphs">LAMPS</text>
<text x="481.2" y="383.8" font-size="9.85" font-weight="normal" font-style="italic" text-anchor="start" fill="#141414" stroke="#141414" stroke-width="0.2" textLength="43" lengthAdjust="spacingAndGlyphs">90-1, 90-2</text>
<rect x="517" y="7.9" width="101" height="20.2" fill="#fff" stroke="#262626" stroke-width="1.3"/>
<text x="523.7" y="21.9" font-size="9.9" font-weight="bold" font-style="normal" text-anchor="start" fill="#141414" stroke="#141414" stroke-width="0.3" textLength="87.6" lengthAdjust="spacingAndGlyphs">* MANUAL PICKUP</text>
<rect x="582.9" y="40" width="74.2" height="17.6" fill="#ebe9e6" stroke="#2e2e2e" stroke-width="1.6"/>
<text x="594.2" y="51.9" font-size="11.7" font-weight="bold" font-style="normal" text-anchor="start" fill="#141414" stroke="#141414" stroke-width="0.3" textLength="51.9" lengthAdjust="spacingAndGlyphs">REVISED</text>
<rect x="676.4" y="5.6" width="40.0" height="41.6" fill="#ebe9e6"/>
<line x1="672.9" y1="4.2" x2="681.8" y2="4.2" stroke="#0c0c0c" stroke-width="2.4" />
<line x1="684.8" y1="4.2" x2="696.7" y2="4.2" stroke="#0c0c0c" stroke-width="2.4" />
<line x1="699.7" y1="4.2" x2="712.6" y2="4.2" stroke="#0c0c0c" stroke-width="2.4" />
<line x1="715.2" y1="4.2" x2="719.9" y2="4.2" stroke="#0c0c0c" stroke-width="2.4" />
<line x1="672.9" y1="48.6" x2="679.6" y2="48.6" stroke="#0c0c0c" stroke-width="2.4" />
<line x1="683.1" y1="48.6" x2="694.8" y2="48.6" stroke="#0c0c0c" stroke-width="2.4" />
<line x1="697.9" y1="48.6" x2="709.8" y2="48.6" stroke="#0c0c0c" stroke-width="2.4" />
<line x1="712.9" y1="48.6" x2="719.9" y2="48.6" stroke="#0c0c0c" stroke-width="2.4" />
<line x1="674.1" y1="3" x2="674.1" y2="9.9" stroke="#0c0c0c" stroke-width="2.4" />
<line x1="674.1" y1="12.9" x2="674.1" y2="24.8" stroke="#0c0c0c" stroke-width="2.4" />
<line x1="674.1" y1="27.8" x2="674.1" y2="39.7" stroke="#0c0c0c" stroke-width="2.4" />
<line x1="674.1" y1="42.3" x2="674.1" y2="49.8" stroke="#0c0c0c" stroke-width="2.4" />
<line x1="718.7" y1="3" x2="718.7" y2="9.9" stroke="#0c0c0c" stroke-width="2.4" />
<line x1="718.7" y1="12.9" x2="718.7" y2="24.8" stroke="#0c0c0c" stroke-width="2.4" />
<line x1="718.7" y1="27.8" x2="718.7" y2="39.7" stroke="#0c0c0c" stroke-width="2.4" />
<line x1="718.7" y1="42.3" x2="718.7" y2="49.8" stroke="#0c0c0c" stroke-width="2.4" />
<text x="694.8" y="43.9" font-size="9.7" font-weight="normal" font-style="normal" text-anchor="start" fill="#141414" stroke="#141414" stroke-width="0.2" textLength="5.4" lengthAdjust="spacingAndGlyphs">8</text>
<text x="726.5" y="11.5" font-size="9.85" font-weight="bold" font-style="normal" text-anchor="start" fill="#141414" stroke="#141414" stroke-width="0.3" textLength="62.9" lengthAdjust="spacingAndGlyphs">INSTRUMENT</text>
<line x1="726.5" y1="14.4" x2="789.4" y2="14.4" stroke="#8e8e8e" stroke-width="1"/>
<text x="726.5" y="22.9" font-size="9.85" font-weight="bold" font-style="normal" text-anchor="start" fill="#141414" stroke="#141414" stroke-width="0.3" textLength="45.1" lengthAdjust="spacingAndGlyphs">CLUSTER</text>
<line x1="726.5" y1="25.8" x2="771.6" y2="25.8" stroke="#8e8e8e" stroke-width="1"/>
<text x="731.1" y="37.7" font-size="8.4" font-weight="normal" font-style="italic" text-anchor="start" fill="#141414" stroke="#141414" stroke-width="0.2" textLength="38.1" lengthAdjust="spacingAndGlyphs">60-1, 60-2</text>
<line x1="692.35" y1="52.95" x2="695.2" y2="56.5" stroke="#0c0c0c" stroke-width="2.15" stroke-linecap="round"/>
<line x1="701.05" y1="52.95" x2="698.2" y2="56.5" stroke="#0c0c0c" stroke-width="2.15" stroke-linecap="round"/>
<path d="M694.1,60.0 L694.1,56.0 L695.4,54.7 L696.7,54.3 L698.0,54.7 L699.3,56.0 L699.3,60.0 Z" fill="#0c0c0c"/>
<text x="705.7" y="61.6" font-size="9.85" font-weight="bold" font-style="normal" text-anchor="start" fill="#141414" stroke="#141414" stroke-width="0.3" textLength="28.2" lengthAdjust="spacingAndGlyphs">C250b</text>
<line x1="705.7" y1="64.5" x2="733.9" y2="64.5" stroke="#8e8e8e" stroke-width="1"/>
<line x1="696.7" y1="56" x2="696.7" y2="123" stroke="#0c0c0c" stroke-width="5.2" />
<line x1="695.8" y1="63.3" x2="697.6" y2="70.7" stroke="#fff" stroke-width="1.7" />
<line x1="695.8" y1="83.3" x2="697.6" y2="90.7" stroke="#fff" stroke-width="1.7" />
<line x1="695.8" y1="104.3" x2="697.6" y2="111.7" stroke="#fff" stroke-width="1.7" />
<path d="M694.1,122.5 L694.1,125.5 Q693.8,127.5 691.4,128.6 L692.0,129.7 Q696.7,126.5 701.4,129.7 L702.0,128.6 Q699.6,127.5 699.3,125.5 L699.3,122.5 Z" fill="#0c0c0c"/>
<path d="M692.1,133.7 Q696.7,128.9 701.3,133.7" fill="none" stroke="#0c0c0c" stroke-width="2" stroke-linecap="round"/>
<path d="M694.1,137.5 L694.1,132.1 Q696.7,130.3 699.3,132.1 L699.3,137.5 Z" fill="#0c0c0c"/>
<text x="678.5" y="90.7" font-size="9.85" font-weight="bold" font-style="normal" text-anchor="start" fill="#141414" stroke="#141414" stroke-width="0.3" textLength="10.9" lengthAdjust="spacingAndGlyphs">39</text>
<text x="703.7" y="90.7" font-size="9.85" font-weight="bold" font-style="normal" text-anchor="start" fill="#141414" stroke="#141414" stroke-width="0.3" textLength="31.8" lengthAdjust="spacingAndGlyphs">RD/WH</text>
<text x="710" y="123.8" font-size="9.85" font-weight="bold" font-style="normal" text-anchor="start" fill="#141414" stroke="#141414" stroke-width="0.3" textLength="27.4" lengthAdjust="spacingAndGlyphs">C1050</text>
<line x1="707" y1="128.2" x2="741" y2="128.2" stroke="#8e8e8e" stroke-width="1"/>
<line x1="696.7" y1="136" x2="696.7" y2="190" stroke="#0c0c0c" stroke-width="5.2" />
<line x1="695.8" y1="145.3" x2="697.6" y2="152.7" stroke="#fff" stroke-width="1.7" />
<line x1="695.8" y1="159.8" x2="697.6" y2="167.2" stroke="#fff" stroke-width="1.7" />
<line x1="695.8" y1="176.7" x2="697.6" y2="184.1" stroke="#fff" stroke-width="1.7" />
<path d="M694.1,204.0 L694.1,201.0 Q693.8,199.0 691.4,197.9 L692.0,196.8 Q696.7,200.0 701.4,196.8 L702.0,197.9 Q699.6,199.0 699.3,201.0 L699.3,204.0 Z" fill="#0c0c0c"/>
<path d="M692.1,192.8 Q696.7,197.6 701.3,192.8" fill="none" stroke="#0c0c0c" stroke-width="2" stroke-linecap="round"/>
<path d="M694.1,189.0 L694.1,194.4 Q696.7,196.2 699.3,194.4 L699.3,189.0 Z" fill="#0c0c0c"/>
<text x="678.5" y="165.5" font-size="9.85" font-weight="bold" font-style="normal" text-anchor="start" fill="#141414" stroke="#141414" stroke-width="0.3" textLength="10.9" lengthAdjust="spacingAndGlyphs">39</text>
<text x="703.7" y="165.5" font-size="9.85" font-weight="bold" font-style="normal" text-anchor="start" fill="#141414" stroke="#141414" stroke-width="0.3" textLength="31.8" lengthAdjust="spacingAndGlyphs">RD/WH</text>
<text x="711.2" y="193.3" font-size="9.85" font-weight="bold" font-style="normal" text-anchor="start" fill="#141414" stroke="#141414" stroke-width="0.3" textLength="21.8" lengthAdjust="spacingAndGlyphs">C138</text>
<line x1="707" y1="196.2" x2="737.4" y2="196.2" stroke="#8e8e8e" stroke-width="1"/>
<line x1="696.7" y1="204" x2="696.7" y2="246" stroke="#0c0c0c" stroke-width="5.2" />
<line x1="695.8" y1="210.5" x2="697.6" y2="217.9" stroke="#fff" stroke-width="1.7" />
<line x1="695.8" y1="227.3" x2="697.6" y2="234.7" stroke="#fff" stroke-width="1.7" />
<line x1="692.35" y1="249.45" x2="695.2" y2="245.9" stroke="#0c0c0c" stroke-width="2.15" stroke-linecap="round"/>
<line x1="701.05" y1="249.45" x2="698.2" y2="245.9" stroke="#0c0c0c" stroke-width="2.15" stroke-linecap="round"/>
<path d="M694.1,242.4 L694.1,246.4 L695.4,247.7 L696.7,248.1 L698.0,247.7 L699.3,246.4 L699.3,242.4 Z" fill="#0c0c0c"/>
<text x="678.5" y="227.6" font-size="9.85" font-weight="bold" font-style="normal" text-anchor="start" fill="#141414" stroke="#141414" stroke-width="0.3" textLength="10.9" lengthAdjust="spacingAndGlyphs">39</text>
<text x="703.7" y="227.6" font-size="9.85" font-weight="bold" font-style="normal" text-anchor="start" fill="#141414" stroke="#141414" stroke-width="0.3" textLength="31.8" lengthAdjust="spacingAndGlyphs">RD/WH</text>
<text x="706.6" y="247.5" font-size="9.85" font-weight="bold" font-style="normal" text-anchor="start" fill="#141414" stroke="#141414" stroke-width="0.3" textLength="21.9" lengthAdjust="spacingAndGlyphs">C150</text>
<line x1="706.6" y1="250.4" x2="728.5" y2="250.4" stroke="#8e8e8e" stroke-width="1"/>
<rect x="679.7" y="254.5" width="35.9" height="42.7" fill="#ebe9e6" stroke="#0c0c0c" stroke-width="2.8"/>
<path d="M696.2,256.2 L696.2,267.6 l-2.5,2.2 l4.8,2.8 l-4.6,2.8 l4.6,2.8 l-4.4,2.8 l2.1,2.3 L696.2,296.6" fill="none" stroke="#0c0c0c" stroke-width="1.15" stroke-linejoin="round"/>
<path d="M692.0,259.6 L696.2,256.0 L700.4,259.6" fill="none" stroke="#0c0c0c" stroke-width="1.1"/>
<path d="M692.0,293.2 L696.2,296.8 L700.4,293.2" fill="none" stroke="#0c0c0c" stroke-width="1.1"/>
<line x1="687.9" y1="284.3" x2="703" y2="269.8" stroke="#0c0c0c" stroke-width="1.15" />
<path d="M706.2,266.8 L700.2,268.9 L704.2,272.8 Z" fill="#0c0c0c"/>
<text x="722.4" y="261.2" font-size="9.85" font-weight="bold" font-style="normal" text-anchor="start" fill="#141414" stroke="#141414" stroke-width="0.3" textLength="87.3" lengthAdjust="spacingAndGlyphs">ENGINE COOLANT</text>
<line x1="722.4" y1="264.5" x2="809.7" y2="264.5" stroke="#8e8e8e" stroke-width="1"/>
<text x="722.4" y="272.4" font-size="9.85" font-weight="bold" font-style="normal" text-anchor="start" fill="#141414" stroke="#141414" stroke-width="0.3" textLength="71.8" lengthAdjust="spacingAndGlyphs">TEMPERATURE</text>
<line x1="722.4" y1="275.3" x2="794.2" y2="275.3" stroke="#8e8e8e" stroke-width="1"/>
<text x="722.4" y="283.7" font-size="9.85" font-weight="bold" font-style="normal" text-anchor="start" fill="#141414" stroke="#141414" stroke-width="0.3" textLength="68" lengthAdjust="spacingAndGlyphs">(ECT) SENDER</text>
<line x1="750.3" y1="287.1" x2="790.4" y2="287.1" stroke="#8e8e8e" stroke-width="1"/>
<line x1="692.35" y1="306.45" x2="695.2" y2="310.0" stroke="#0c0c0c" stroke-width="2.15" stroke-linecap="round"/>
<line x1="701.05" y1="306.45" x2="698.2" y2="310.0" stroke="#0c0c0c" stroke-width="2.15" stroke-linecap="round"/>
<path d="M694.1,313.5 L694.1,309.5 L695.4,308.2 L696.7,307.8 L698.0,308.2 L699.3,309.5 L699.3,313.5 Z" fill="#0c0c0c"/>
<text x="680.2" y="313.2" font-size="6.5" font-weight="bold" font-style="normal" text-anchor="start" fill="#333" stroke="#333" stroke-width="0.15" textLength="8.0" lengthAdjust="spacingAndGlyphs">0V</text>
<text x="708.1" y="313.8" font-size="9.85" font-weight="bold" font-style="normal" text-anchor="start" fill="#141414" stroke="#141414" stroke-width="0.3" textLength="22.2" lengthAdjust="spacingAndGlyphs">C150</text>
<line x1="708.1" y1="317.3" x2="730.4" y2="317.3" stroke="#8e8e8e" stroke-width="1"/>
<line x1="696.7" y1="310" x2="696.7" y2="346" stroke="#0c0c0c" stroke-width="5.2" />
<line x1="695.8" y1="313.6" x2="697.6" y2="321.0" stroke="#fff" stroke-width="1.7" />
<line x1="695.8" y1="334.3" x2="697.6" y2="341.7" stroke="#fff" stroke-width="1.7" />
<path d="M694.1,346.0 L694.1,349.0 Q693.8,351.0 691.4,352.1 L692.0,353.2 Q696.7,350.0 701.4,353.2 L702.0,352.1 Q699.6,351.0 699.3,349.0 L699.3,346.0 Z" fill="#0c0c0c"/>
<path d="M692.1,357.2 Q696.7,352.4 701.3,357.2" fill="none" stroke="#0c0c0c" stroke-width="2" stroke-linecap="round"/>
<path d="M694.1,361.0 L694.1,355.6 Q696.7,353.8 699.3,355.6 L699.3,361.0 Z" fill="#0c0c0c"/>
<text x="678.5" y="329.9" font-size="9.85" font-weight="bold" font-style="normal" text-anchor="start" fill="#141414" stroke="#141414" stroke-width="0.3" textLength="10.7" lengthAdjust="spacingAndGlyphs">45</text>
<text x="704.1" y="329.9" font-size="9.85" font-weight="bold" font-style="normal" text-anchor="start" fill="#141414" stroke="#141414" stroke-width="0.3" textLength="27.8" lengthAdjust="spacingAndGlyphs">YE/RD</text>
<text x="710.7" y="349" font-size="9.85" font-weight="bold" font-style="normal" text-anchor="start" fill="#141414" stroke="#141414" stroke-width="0.3" textLength="22.6" lengthAdjust="spacingAndGlyphs">C138</text>
<line x1="706.4" y1="352.5" x2="735" y2="352.5" stroke="#8e8e8e" stroke-width="1"/>
<line x1="696.7" y1="360" x2="696.7" y2="445.8" stroke="#0c0c0c" stroke-width="5.2" />
<line x1="695.8" y1="358.2" x2="697.6" y2="365.4" stroke="#fff" stroke-width="1.7" />
<line x1="695.8" y1="376.9" x2="697.6" y2="384.1" stroke="#fff" stroke-width="1.7" />
<line x1="695.8" y1="396.1" x2="697.6" y2="403.3" stroke="#fff" stroke-width="1.7" />
<line x1="695.8" y1="415.8" x2="697.6" y2="423.0" stroke="#fff" stroke-width="1.7" />
<line x1="695.8" y1="433.9" x2="697.6" y2="441.1" stroke="#fff" stroke-width="1.7" />
<rect x="692.7" y="371.0" width="8" height="2.0" fill="#fff"/>
<rect x="692.7" y="390.2" width="8" height="2.0" fill="#fff"/>
<rect x="692.7" y="409.2" width="8" height="2.0" fill="#fff"/>
<rect x="692.7" y="427.9" width="8" height="2.0" fill="#fff"/>
<path d="M692.7,455.8 L692.7,454 A4.0,4.0 0 0 1 700.7,454 L700.7,455.8 Z" fill="#0c0c0c"/>
<line x1="690.2" y1="456.3" x2="703.2" y2="456.3" stroke="#0c0c0c" stroke-width="1.2" />
<line x1="692.5" y1="458.6" x2="700.9" y2="458.6" stroke="#333" stroke-width="1.0" />
<line x1="694.5" y1="460.7" x2="698.9" y2="460.7" stroke="#444" stroke-width="1.0" />
<text x="709.2" y="459.2" font-size="9.85" font-weight="bold" font-style="normal" text-anchor="start" fill="#141414" stroke="#141414" stroke-width="0.3" textLength="22.2" lengthAdjust="spacingAndGlyphs">G300</text>
<line x1="709.2" y1="462.1" x2="731.4" y2="462.1" stroke="#8e8e8e" stroke-width="1"/>
<rect x="588.9" y="395.9" width="92.5" height="42.6" fill="#fff" stroke="#262626" stroke-width="1.2"/>
<text x="596.1" y="408.1" font-size="9.85" font-weight="bold" font-style="normal" text-anchor="start" fill="#141414" stroke="#141414" stroke-width="0.3" textLength="70" lengthAdjust="spacingAndGlyphs">SEE GROUNDS</text>
<text x="596.1" y="420.1" font-size="9.85" font-weight="normal" font-style="italic" text-anchor="start" fill="#141414" stroke="#141414" stroke-width="0.2" textLength="49.2" lengthAdjust="spacingAndGlyphs">10-6, 10-19</text>
</svg></body></html>
